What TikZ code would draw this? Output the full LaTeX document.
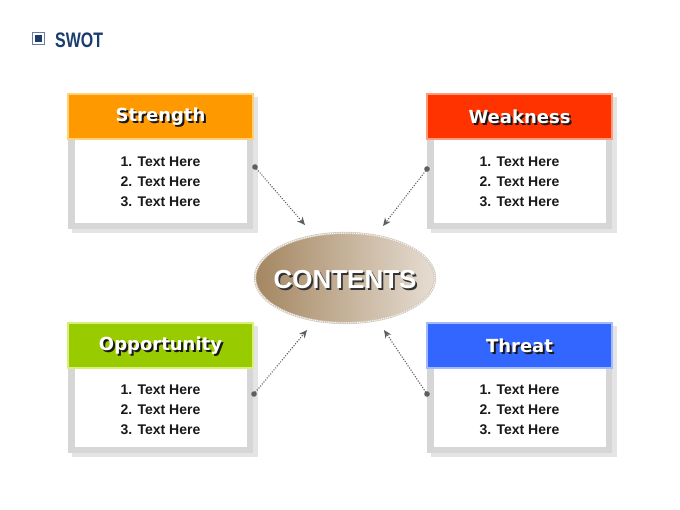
\documentclass[tikz,border=0pt]{standalone}
\usepackage{fontspec}
\setmainfont{Liberation Sans}
\newfontfamily\hdfont{DejaVu Sans}
\usetikzlibrary{arrows.meta,shapes.geometric}
\definecolor{navy}{HTML}{1B3C6E}
\definecolor{iconedge}{HTML}{6A7F9E}
\definecolor{cshadow}{HTML}{E4E4E4}
\definecolor{cframe}{HTML}{D6D6D6}
\definecolor{orangeF}{HTML}{FF9900}
\definecolor{orangeB}{HTML}{FFD27A}
\definecolor{redF}{HTML}{FF3300}
\definecolor{redB}{HTML}{FF9A7A}
\definecolor{greenF}{HTML}{99CC00}
\definecolor{greenB}{HTML}{D8F07A}
\definecolor{blueF}{HTML}{3366FF}
\definecolor{blueB}{HTML}{A3BAFF}
\definecolor{connC}{HTML}{5F5F5F}
\definecolor{brownD}{HTML}{A48661}
\definecolor{brownM}{HTML}{CDBBA4}
\definecolor{brownL}{HTML}{E6DDD2}
\definecolor{rimC}{HTML}{D2C8BC}
\tikzset{
  hdrbox/.style={rectangle, minimum width=185pt, minimum height=45pt, inner sep=0pt, line width=1.5pt},
  hdrshadow/.style={font=\hdfont\bfseries\fontsize{18}{18}\selectfont, text=black!90, inner sep=0pt},
  hdrtext/.style={font=\hdfont\bfseries\fontsize{18}{18}\selectfont, text=white, inner sep=0pt},
  bodytext/.style={font=\bfseries\fontsize{14}{20}\selectfont, align=center, text=black!90, inner sep=0pt},
  conn/.style={draw=connC, line width=1.6pt, line cap=round, dash pattern=on 0.01pt off 2.6pt,
    -{Stealth[length=8pt,width=7pt]}},
  conndot/.style={fill=connC},
  ctext/.style={font=\bfseries\fontsize{26}{26}\selectfont, inner sep=0pt}
}
\newcommand\swotcard[8]{%
  \fill[cshadow] (#2+4,#3+3) rectangle (#2+190,#4+4);
  \fill[cframe] (#2,#3+45) rectangle (#2+185,#4);
  \fill[white] (#2+7,#3+45) rectangle (#2+179,#4-6);
  \node[hdrbox, fill=#5, draw=#6] (#1) at (#2+92.5,#3+22.5) {};
  \node[hdrshadow] (#1-ts) at (#2+94.5,#3+24.5) {#7};
  \node[hdrtext] (#1-t) at (#2+92.5,#3+22.5) {#7};
  \node[bodytext] (#1-b) at (#2+92.5,#8) {1. Text Here\\2. Text Here\\3. Text Here};
}
\begin{document}
\begin{tikzpicture}[x=1pt,y=-1pt]
\useasboundingbox (0,0) rectangle (680,510);
\fill[white] (0,0) rectangle (680,510);
% title
\node[draw=iconedge, line width=1pt, minimum size=12pt, inner sep=0pt] (ic) at (38.5,38.5) {};
\node[fill=navy, minimum size=6.5pt, inner sep=0pt] (icin) at (38.5,38.5) {};
\node[font=\bfseries\fontsize{21}{21}\selectfont, text=navy, xscale=0.76, anchor=west, inner sep=0pt] (ttl) at (55,40) {SWOT};
% cards
\swotcard{S}{68}{94}{229}{orangeF}{orangeB}{Strength}{182}
\swotcard{W}{427}{94}{229}{redF}{redB}{Weakness}{182}
\swotcard{O}{68}{323}{453}{greenF}{greenB}{Opportunity}{410}
\swotcard{T}{427}{323}{453}{blueF}{blueB}{Threat}{410}
% centre
\node[ellipse, minimum width=180pt, minimum height=90pt, inner sep=0pt,
  left color=brownD, middle color=brownM, right color=brownL, draw=rimC, line width=2.2pt] (C) at (345,278) {};
\draw[white, line width=1pt, dash pattern=on 1pt off 1.2pt] (C.center) ellipse [x radius=90pt, y radius=45pt];
\node[ctext, text=black!80] (Cs) at (346.8,281.8) {CONTENTS};
\node[ctext, text=white] (Ct) at (345,280) {CONTENTS};
% connectors
\coordinate (sD) at (255,167); \coordinate (sE) at (305,225);
\coordinate (wD) at (427,169); \coordinate (wE) at (383,226);
\coordinate (oD) at (254,394); \coordinate (oE) at (307,330);
\coordinate (tD) at (427,394); \coordinate (tE) at (384,330);
\draw[conn] (sD) -- (sE);
\draw[conn] (wD) -- (wE);
\draw[conn] (oD) -- (oE);
\draw[conn] (tD) -- (tE);
\fill[conndot] (sD) circle (2.8pt);
\fill[conndot] (wD) circle (2.8pt);
\fill[conndot] (oD) circle (2.8pt);
\fill[conndot] (tD) circle (2.8pt);
\end{tikzpicture}
\end{document}
